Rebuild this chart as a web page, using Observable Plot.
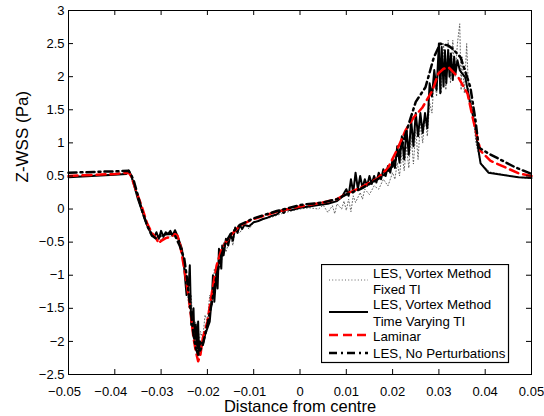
<!DOCTYPE html>
<html><head><meta charset="utf-8">
<script src="https://cdn.jsdelivr.net/npm/d3@7"></script>
<script src="https://cdn.jsdelivr.net/npm/@observablehq/plot@0.6"></script>
<style>
body{margin:0;background:#fff;font-family:"Liberation Sans",Arial,sans-serif}
#wrap{position:relative;width:544px;height:416px}
#legend{position:absolute;left:321px;top:264px}
</style></head><body><div id="wrap"></div>
<script>
// ---- data (x: distance from centre [m], y: Z-WSS [Pa]) ----
const xTicks = [-0.05,-0.04,-0.03,-0.02,-0.01,0,0.01,0.02,0.03,0.04,0.05];
const yTicks = [-2.5,-2,-1.5,-1,-0.5,0,0.5,1,1.5,2,2.5,3];

const seriesNames = ["LES, Vortex Method\nFixed TI","LES, Vortex Method\nTime Varying TI","Laminar","LES, No Perturbations"];

const fixedTI = [
[-0.05,0.5],[-0.04,0.52],[-0.037,0.55],[-0.036,0.4],[-0.035,0.15],[-0.034,-0.05],[-0.033,-0.28],[-0.032,-0.42],
[-0.031,-0.38],[-0.030,-0.48],[-0.029,-0.35],[-0.028,-0.42],[-0.027,-0.36],[-0.026,-0.48],[-0.025,-0.8],
[-0.0245,-1.1],[-0.024,-1.5],[-0.0235,-1.3],[-0.023,-1.9],[-0.0225,-1.7],[-0.022,-2.15],[-0.0215,-1.85],
[-0.021,-1.95],[-0.0205,-1.6],[-0.02,-1.7],[-0.0195,-1.3],[-0.019,-1.45],[-0.0185,-0.9],[-0.018,-1.1],
[-0.0175,-0.7],[-0.017,-0.85],[-0.0165,-0.5],[-0.016,-0.65],[-0.015,-0.42],[-0.0145,-0.55],[-0.014,-0.3],
[-0.013,-0.36],[-0.012,-0.24],[-0.011,-0.3],[-0.01,-0.2],[-0.008,-0.16],[-0.006,-0.12],[-0.004,-0.07],
[-0.002,-0.03],[0,0.0],[0.002,0.02],[0.004,0.0],[0.005,0.06],[0.006,-0.05],[0.007,0.05],[0.0075,-0.07],
[0.008,0.08],[0.009,0.0],[0.0095,0.12],[0.01,-0.02],[0.0105,0.15],[0.011,-0.04],[0.0115,0.2],[0.012,0.1],
[0.013,0.25],[0.0135,0.15],[0.014,0.3],[0.015,0.22],[0.016,0.35],[0.017,0.3],[0.018,0.45],[0.019,0.35],
[0.02,0.55],[0.0205,0.45],[0.021,0.7],[0.0215,0.5],[0.022,0.85],[0.0225,0.58],[0.023,0.95],[0.0235,0.62],
[0.024,1.1],[0.0245,0.68],[0.025,1.2],[0.0255,0.75],[0.026,1.3],[0.0265,1.0],[0.027,1.4],[0.0275,1.1],
[0.028,1.6],[0.0285,1.45],[0.029,2.0],[0.0295,1.7],[0.03,2.35],[0.0305,1.75],[0.031,2.5],[0.0315,1.8],
[0.032,2.55],[0.0325,1.9],[0.033,2.55],[0.0335,2.0],[0.034,2.5],[0.0345,2.8],[0.0348,1.8],[0.035,2.3],
[0.0355,1.75],[0.036,2.5],[0.0365,1.6],[0.037,1.65],[0.038,1.0],[0.039,0.7],[0.041,0.56],[0.047,0.48],[0.05,0.46]
];

const timeVaryingTI = [
[-0.05,0.48],[-0.045,0.5],[-0.04,0.52],[-0.0375,0.53],[-0.037,0.58],[-0.0365,0.52],[-0.036,0.4],[-0.035,0.15],
[-0.034,-0.05],[-0.033,-0.25],[-0.032,-0.38],[-0.0315,-0.42],[-0.031,-0.35],[-0.0305,-0.45],[-0.03,-0.33],
[-0.0295,-0.42],[-0.029,-0.35],[-0.0285,-0.38],[-0.028,-0.33],[-0.0275,-0.4],[-0.027,-0.32],[-0.0265,-0.4],
[-0.026,-0.5],[-0.0255,-0.6],[-0.025,-0.9],[-0.0245,-1.3],[-0.024,-1.1],[-0.0238,-0.85],[-0.0235,-1.75],
[-0.023,-1.5],[-0.0228,-2.0],[-0.0225,-1.75],[-0.0222,-2.1],[-0.022,-1.7],[-0.0218,-2.2],[-0.0215,-2.0],
[-0.021,-2.05],[-0.0205,-1.9],[-0.02,-1.8],[-0.0195,-1.7],[-0.019,-1.3],[-0.0188,-1.0],[-0.0185,-1.4],
[-0.018,-0.9],[-0.0178,-1.2],[-0.0175,-0.6],[-0.017,-0.9],[-0.0168,-0.55],[-0.0165,-0.7],[-0.016,-0.45],
[-0.0155,-0.55],[-0.015,-0.38],[-0.0145,-0.48],[-0.014,-0.28],[-0.0135,-0.36],[-0.013,-0.24],[-0.0125,-0.3],
[-0.012,-0.24],[-0.011,-0.26],[-0.01,-0.2],[-0.009,-0.18],[-0.008,-0.15],[-0.007,-0.13],[-0.006,-0.1],
[-0.005,-0.08],[-0.004,-0.02],[-0.0035,-0.06],[-0.003,0.0],[-0.002,-0.02],[-0.001,0.0],[0,0.02],[0.002,0.04],
[0.004,0.06],[0.006,0.08],[0.008,0.12],[0.009,0.18],[0.01,0.3],[0.0105,0.2],[0.011,0.45],[0.0115,0.25],
[0.012,0.55],[0.0125,0.3],[0.013,0.5],[0.0135,0.32],[0.014,0.45],[0.0145,0.35],[0.015,0.5],[0.0155,0.38],
[0.016,0.5],[0.0165,0.4],[0.017,0.55],[0.0175,0.45],[0.018,0.6],[0.0185,0.5],[0.019,0.65],[0.0195,0.55],
[0.02,0.75],[0.0205,0.62],[0.021,0.95],[0.0215,0.7],[0.022,1.1],[0.0225,0.75],[0.023,1.2],[0.0235,0.82],
[0.024,1.35],[0.0245,0.95],[0.025,1.45],[0.0255,1.1],[0.026,1.45],[0.0265,1.15],[0.027,1.45],[0.0275,1.22],
[0.028,1.9],[0.0285,1.7],[0.029,2.1],[0.0295,1.8],[0.03,2.5],[0.0303,1.75],[0.0306,2.45],[0.031,1.85],
[0.0313,2.4],[0.0316,1.9],[0.032,2.4],[0.0323,2.0],[0.0326,2.35],[0.033,1.95],[0.0333,2.3],[0.0336,2.05],
[0.034,2.25],[0.0345,2.1],[0.035,2.05],[0.0357,1.99],[0.0368,1.59],[0.0379,1.23],[0.0383,1.0],[0.039,0.69],
[0.0407,0.55],[0.0472,0.48],[0.05,0.47]
];

const laminar = [
[-0.05,0.5],[-0.04,0.53],[-0.037,0.55],[-0.0365,0.5],[-0.035,0.2],[-0.034,0.0],[-0.033,-0.22],[-0.032,-0.36],
[-0.031,-0.45],[-0.0305,-0.52],[-0.03,-0.48],[-0.029,-0.44],[-0.028,-0.42],[-0.027,-0.38],[-0.0265,-0.4],
[-0.026,-0.5],[-0.025,-0.9],[-0.024,-1.35],[-0.023,-1.95],[-0.0225,-2.15],[-0.022,-2.3],[-0.0215,-2.2],
[-0.021,-1.95],[-0.02,-1.7],[-0.019,-1.25],[-0.018,-0.85],[-0.017,-0.62],[-0.016,-0.5],[-0.015,-0.4],
[-0.013,-0.25],[-0.01,-0.15],[-0.005,-0.04],[0,0.04],[0.005,0.1],[0.008,0.15],[0.01,0.23],[0.013,0.32],
[0.0167,0.46],[0.019,0.62],[0.021,0.9],[0.0228,1.19],[0.0245,1.38],[0.0264,1.53],[0.0286,1.79],[0.0299,2.05],
[0.031,2.12],[0.0321,2.14],[0.0342,1.99],[0.0362,1.74],[0.0373,1.38],[0.0383,1.08],[0.039,0.88],[0.0411,0.73],
[0.0472,0.54],[0.05,0.5]
];

const noPerturbation = [
[-0.05,0.55],[-0.04,0.57],[-0.037,0.58],[-0.036,0.45],[-0.035,0.2],[-0.034,-0.05],[-0.033,-0.25],[-0.032,-0.4],
[-0.031,-0.45],[-0.03,-0.4],[-0.029,-0.38],[-0.028,-0.37],[-0.027,-0.4],[-0.026,-0.55],[-0.025,-0.75],
[-0.0245,-1.0],[-0.024,-1.3],[-0.0235,-1.6],[-0.023,-1.9],[-0.0225,-2.1],[-0.022,-2.2],[-0.021,-2.05],
[-0.02,-1.75],[-0.019,-1.4],[-0.018,-1.0],[-0.017,-0.7],[-0.016,-0.5],[-0.015,-0.38],[-0.013,-0.24],
[-0.01,-0.14],[-0.005,-0.03],[0,0.06],[0.005,0.1],[0.008,0.15],[0.01,0.22],[0.013,0.3],[0.016,0.42],
[0.018,0.5],[0.02,0.65],[0.022,0.95],[0.024,1.4],[0.025,1.62],[0.0271,1.84],[0.0289,2.29],[0.0303,2.5],
[0.032,2.47],[0.033,2.42],[0.0347,2.29],[0.0368,1.84],[0.0379,1.34],[0.0386,0.93],[0.0407,0.84],
[0.0465,0.63],[0.05,0.53]
];

// ---- styles ----
const styles = [
  {stroke:"#555", strokeWidth:0.9, strokeDasharray:"1,2.2"},
  {stroke:"#000", strokeWidth:2, strokeDasharray:null},
  {stroke:"#ff0000", strokeWidth:2.5, strokeDasharray:"9,5"},
  {stroke:"#000", strokeWidth:2.5, strokeDasharray:"8,4,2,4"}
];
const allSeries = [fixedTI, timeVaryingTI, laminar, noPerturbation];

const fmt = d3.format("");
const W = 544, H = 416, mL = 68, mR = 13, mT = 10, mB = 42;
const pw = W - mL - mR, ph = H - mT - mB;

const plot = Plot.plot({
  width: W, height: H,
  marginLeft: mL, marginRight: mR, marginTop: mT, marginBottom: mB,
  x: {domain: [-0.05, 0.05]},
  y: {domain: [-2.5, 3]},
  style: {fontFamily: "'Liberation Sans', Arial, sans-serif", fontSize: "13px", color: "#000", background: "#fff"},
  marks: [
    ...allSeries.map((s, i) => Plot.line(s, {x: d => d[0], y: d => d[1], ...styles[i], strokeLinejoin: "round"})),
    Plot.tickX(xTicks, {x: d => d, insetTop: ph - 5, stroke: "#000"}),
    Plot.tickX(xTicks, {x: d => d, insetBottom: ph - 5, stroke: "#000"}),
    Plot.tickY(yTicks, {y: d => d, insetRight: pw - 5, stroke: "#000"}),
    Plot.tickY(yTicks, {y: d => d, insetLeft: pw - 5, stroke: "#000"}),
    Plot.frame({stroke: "#000", strokeWidth: 1}),
    Plot.axisX(xTicks.filter(d => d < 0), {tickSize: 0, tickPadding: 10, tickFormat: fmt, dx: -4, dy: 2, label: null, fontSize: 13}),
    Plot.axisX(xTicks.filter(d => d >= 0), {tickSize: 0, tickPadding: 10, tickFormat: fmt, dy: 2, label: null, fontSize: 13}),
    Plot.axisY(yTicks, {tickSize: 0, tickPadding: 4, tickFormat: fmt, label: null, fontSize: 13}),
    Plot.text(["Distance from centre"], {frameAnchor: "bottom", lineAnchor: "middle", dy: 32, fontSize: 16.5, text: d => d}),
    Plot.text(["Z-WSS (Pa)"], {frameAnchor: "left", rotate: -90, dx: -46, dy: -10, fontSize: 17, text: d => d})
  ]
});
document.getElementById("wrap").appendChild(plot);

// ---- legend ----
const ns = "http://www.w3.org/2000/svg";
const leg = document.createElementNS(ns, "svg");
leg.setAttribute("id", "legend");
leg.setAttribute("width", 189); leg.setAttribute("height", 100);
leg.style.fontFamily = "'Liberation Sans', Arial, sans-serif";
const rect = document.createElementNS(ns, "rect");
rect.setAttribute("x", 0.5); rect.setAttribute("y", 0.5); rect.setAttribute("width", 187); rect.setAttribute("height", 98);
rect.setAttribute("fill", "#fff"); rect.setAttribute("stroke", "#000"); rect.setAttribute("stroke-width", 1.2);
leg.appendChild(rect);
const lineYs = [16, 48, 71, 89];
const textYs = [[9, 25], [40, 57], [72], [89]];
seriesNames.forEach((name, i) => {
  const ln = document.createElementNS(ns, "line");
  ln.setAttribute("x1", 8); ln.setAttribute("x2", 47);
  ln.setAttribute("y1", lineYs[i]); ln.setAttribute("y2", lineYs[i]);
  ln.setAttribute("stroke", styles[i].stroke);
  ln.setAttribute("stroke-width", styles[i].strokeWidth);
  if (styles[i].strokeDasharray) ln.setAttribute("stroke-dasharray", styles[i].strokeDasharray);
  leg.appendChild(ln);
  name.split("\n").forEach((t, j) => {
    const tx = document.createElementNS(ns, "text");
    tx.setAttribute("x", 52); tx.setAttribute("y", textYs[i][j] + 4.6);
    tx.setAttribute("font-size", 13.3);
    tx.textContent = t;
    leg.appendChild(tx);
  });
});
document.getElementById("wrap").appendChild(leg);
</script>
</body></html>
